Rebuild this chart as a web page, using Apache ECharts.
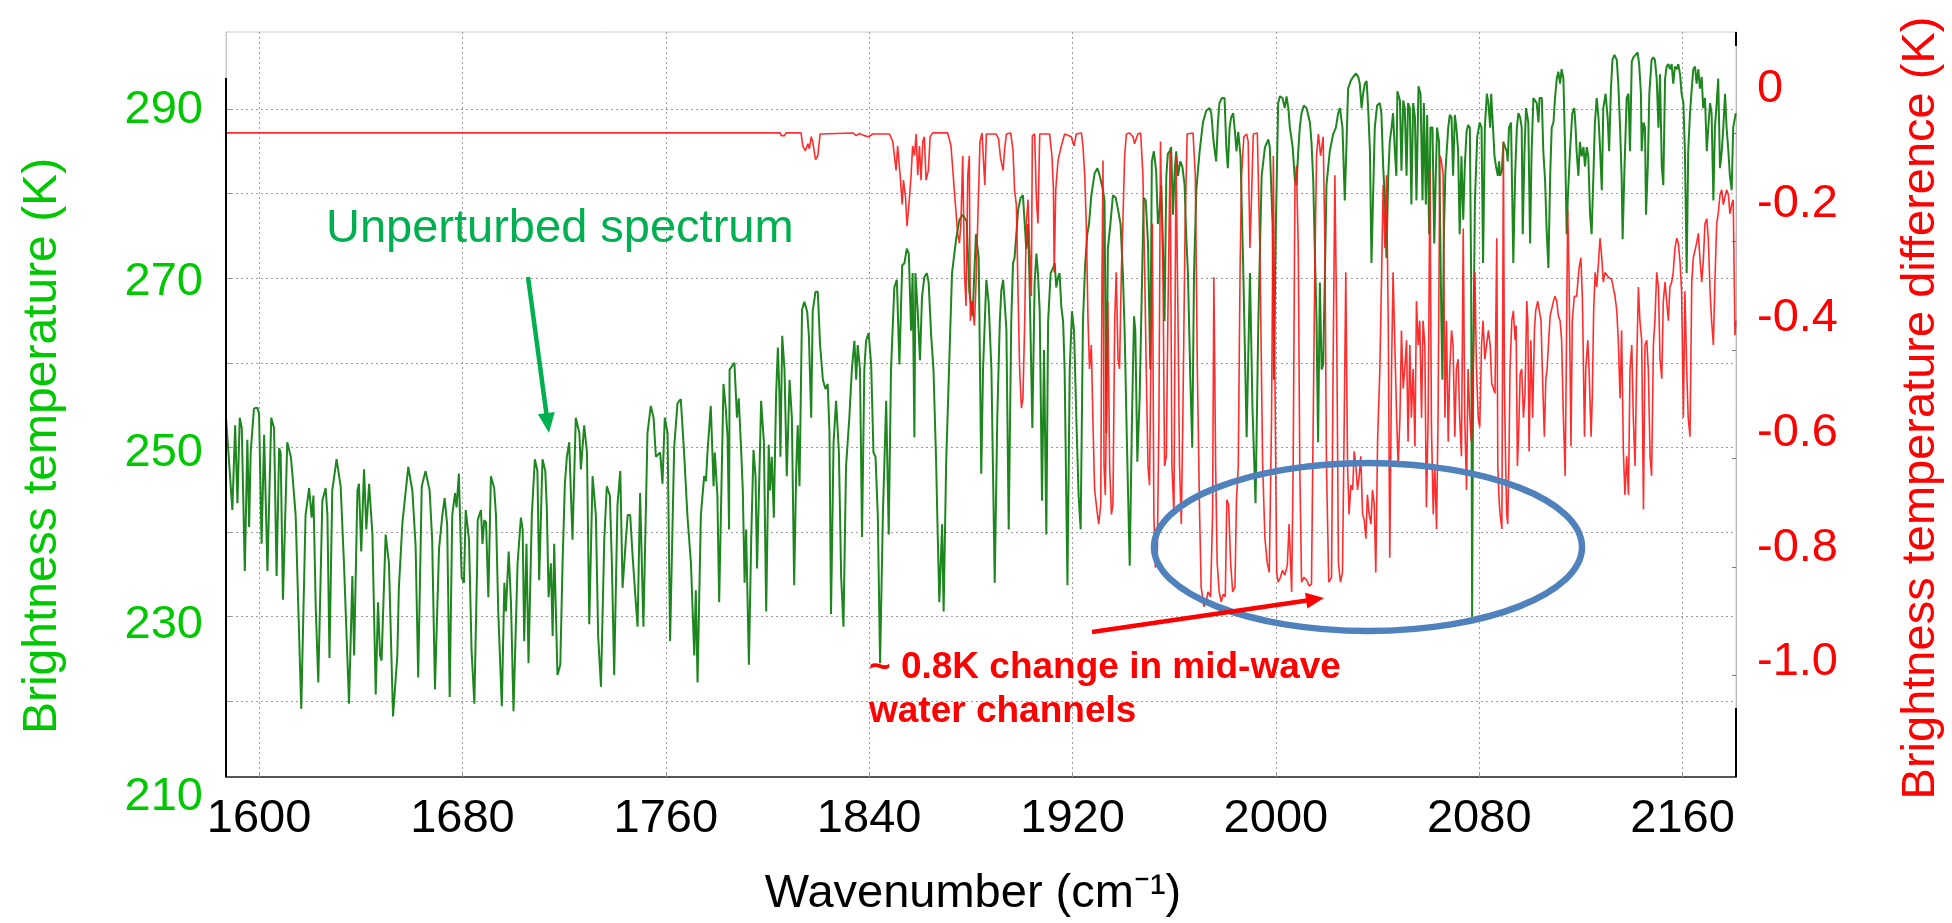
<!DOCTYPE html>
<html>
<head>
<meta charset="utf-8">
<script src="https://cdn.jsdelivr.net/npm/echarts@6.0.0/dist/echarts.min.js"></script>
<style>
html,body{margin:0;padding:0;background:#fff;}
#chart{width:1952px;height:923px;}
</style>
</head>
<body>
<div id="chart"></div>
<script>
// ---------------- data ----------------
const xTickValues = [1600, 1680, 1760, 1840, 1920, 2000, 2080, 2160];
const tempGridValues = [220, 230, 240, 250, 260, 270, 280, 290];
const tempLabelValues = [210, 230, 250, 270, 290];
const diffLabelValues = [0, -0.2, -0.4, -0.6, -0.8, -1.0];
const diffTickValues = [0, -0.2, -0.4, -0.6, -0.8, -1.0];

// Unperturbed spectrum: [wavenumber (cm-1), brightness temperature (K)]
const unperturbedSpectrum = [
[1586.9,254.0],[1589.5,242.6],[1590.6,252.6],[1591.5,243.4],[1592.4,253.5],[1593.2,252.3],[1594.4,235.4],[1595.4,250.9],[1596.1,240.6],[1596.7,249.4],[1598.0,254.6],[1599.3,254.7],[1600.0,254.0],[1601.0,238.6],[1602.0,251.5],[1603.3,235.4],[1604.8,253.5],[1605.9,252.3],[1606.9,234.8],[1607.9,249.9],[1608.5,249.4],[1609.4,232.0],[1611.1,250.6],[1612.5,248.9],[1613.1,246.9],[1614.4,242.0],[1616.6,219.1],[1618.3,242.0],[1619.7,245.2],[1620.7,241.7],[1621.4,244.3],[1622.3,231.1],[1623.3,222.2],[1624.9,243.7],[1626.2,245.2],[1626.9,242.0],[1627.7,225.1],[1628.8,244.9],[1630.5,248.6],[1632.1,245.4],[1633.4,236.3],[1635.4,219.7],[1636.7,234.8],[1637.4,225.4],[1638.7,244.9],[1639.3,245.7],[1640.2,237.7],[1641.3,247.4],[1642.2,240.3],[1643.3,245.7],[1644.6,239.7],[1645.9,220.8],[1646.8,231.7],[1647.6,225.4],[1648.2,224.8],[1649.8,239.7],[1651.1,236.3],[1652.7,218.2],[1654.4,225.4],[1655.0,233.4],[1656.4,241.1],[1658.7,247.7],[1660.3,244.9],[1661.6,238.3],[1662.6,222.8],[1664.0,245.4],[1665.5,247.2],[1667.1,244.9],[1668.1,239.1],[1669.2,221.4],[1670.8,238.0],[1672.1,242.0],[1673.0,244.0],[1674.0,240.9],[1675.0,220.5],[1676.0,242.0],[1677.1,244.6],[1677.7,242.9],[1678.6,246.9],[1679.7,234.6],[1680.6,234.0],[1681.3,242.6],[1682.6,239.1],[1683.6,226.0],[1684.7,219.7],[1685.8,236.3],
[1686.0,241.4],[1687.3,242.6],[1687.9,238.6],[1688.6,241.4],[1689.3,241.1],[1690.2,232.3],[1691.2,246.6],[1692.5,245.2],[1693.2,242.0],[1694.1,230.6],[1695.5,219.4],[1696.5,234.0],[1697.1,230.6],[1698.2,237.7],[1699.1,231.7],[1700.1,218.8],[1701.7,236.3],[1703.0,241.7],[1703.7,240.3],[1704.3,227.1],[1705.2,238.6],[1706.0,224.5],[1707.3,242.0],[1708.5,248.6],[1709.5,247.2],[1710.2,234.3],[1711.5,248.6],[1712.6,247.2],[1713.2,242.9],[1713.9,232.3],[1714.8,236.3],[1715.5,227.7],[1716.1,238.6],[1717.4,223.1],[1718.5,224.3],[1719.4,236.3],[1720.3,245.7],[1721.1,248.9],[1722.0,250.6],[1723.3,239.1],[1724.6,253.5],[1726.0,251.7],[1726.6,247.4],[1727.9,252.6],[1729.0,249.4],[1729.9,229.1],[1731.2,246.6],[1732.5,242.0],[1733.4,227.7],[1734.5,221.7],[1735.8,239.1],[1736.8,245.4],[1738.0,244.3],[1738.8,236.3],[1739.7,223.1],[1741.0,243.2],[1742.1,247.2],[1743.0,233.4],[1744.3,239.1],[1745.0,242.0],[1746.0,242.0],[1746.9,237.4],[1748.2,231.7],[1748.9,228.8],[1749.9,244.6],[1751.2,228.8],[1752.8,251.7],[1754.1,254.9],[1755.2,253.5],[1756.1,248.9],[1757.8,249.4],[1758.7,245.7],[1759.6,253.5],[1760.7,251.7],[1761.7,227.1],[1763.3,250.0],[1764.6,255.2],[1765.9,255.7],[1767.2,249.4],[1768.5,242.0],[1769.9,236.3],[1771.2,225.4],[1771.8,233.1],[1772.5,222.2],[1773.8,242.0],[1775.1,246.6],[1775.8,246.0],[1776.4,249.4],[1777.7,254.9],[1778.8,245.4],[1779.3,249.4],[1780.3,244.3],[1781.0,231.7],[1782.7,257.5],[1783.6,254.6],[1784.3,251.2],[1784.9,240.3],
[1785.1,259.2],[1787.0,260.0],[1788.0,253.5],[1788.7,255.8],[1789.6,250.0],[1790.3,244.9],[1791.0,234.0],[1791.6,240.3],[1792.7,224.3],[1793.6,239.1],[1794.5,249.7],[1795.3,246.6],[1795.9,235.7],[1796.9,247.7],[1797.5,255.5],[1798.6,250.6],[1799.5,230.6],[1800.5,250.3],[1801.0,244.9],[1801.7,248.9],[1802.5,241.7],[1803.4,256.3],[1804.1,261.8],[1804.7,256.3],[1805.1,248.9],[1805.8,263.2],[1806.7,259.2],[1807.6,246.6],[1808.7,258.0],[1809.6,253.5],[1810.5,233.7],[1811.3,247.2],[1811.9,252.6],[1812.6,245.4],[1813.6,266.3],[1814.5,267.2],[1815.6,266.1],[1816.3,263.2],[1817.2,253.5],[1817.8,266.1],[1818.9,268.4],[1819.8,268.4],[1820.7,262.1],[1821.8,258.0],[1822.8,256.9],[1823.7,257.5],[1824.4,251.7],[1825.0,230.3],[1826.0,250.6],[1827.0,255.5],[1828.1,249.4],[1829.0,234.6],[1829.9,228.8],[1830.9,247.7],[1832.2,253.5],[1833.2,259.2],[1834.2,262.6],[1834.9,258.0],[1835.5,262.1],[1836.4,259.2],[1837.2,239.4],[1838.1,259.2],[1838.8,262.6],[1839.8,263.5],[1840.8,259.8],[1841.7,249.4],[1842.5,248.9],[1843.4,242.0],[1844.3,224.5],[1845.4,242.0],[1846.7,255.5],[1847.7,239.7],[1848.6,259.2],[1849.9,268.9],[1850.9,269.8],[1851.9,259.8],[1853.0,271.5],[1853.9,271.8],[1854.8,273.5],[1855.6,272.9],[1856.5,263.8],[1857.1,270.6],[1857.8,251.2],[1858.2,270.6],[1859.1,266.1],[1860.0,260.3],[1860.8,267.8],[1861.7,270.1],[1862.7,270.6],[1863.4,269.5],[1864.4,263.2],[1865.3,259.2],[1866.3,248.9],[1867.0,239.4],[1867.6,231.7],[1868.7,240.9],[1869.3,230.6],[1870.3,248.3],[1871.3,258.0],[1872.6,270.6],[1874.2,274.6],[1875.5,276.9],[1876.8,277.5],[1878.4,276.7],[1879.4,268.4],[1880.7,265.5],[1882.0,275.2],[1883.1,272.4],
[1884.1,246.9],[1884.8,259.2],[1886.1,269.8],[1887.0,267.2],[1888.1,259.2],[1889.4,234.0],[1890.4,253.5],[1891.4,264.9],[1892.0,268.6],[1892.7,269.8],[1893.3,267.2],[1894.0,263.8],[1894.9,240.3],[1895.9,264.9],[1896.6,271.8],[1897.2,272.4],[1897.9,275.2],[1898.6,278.1],[1899.6,279.5],[1900.5,279.8],[1901.2,276.4],[1901.8,273.5],[1902.5,276.4],[1903.1,269.5],[1904.2,252.3],[1905.1,269.5],[1905.8,272.9],[1906.4,270.6],[1907.1,266.1],[1908.0,243.7],[1908.8,261.5],[1909.7,239.7],[1910.4,264.9],[1911.4,270.6],[1912.3,271.2],[1913.0,271.8],[1913.6,268.9],[1914.3,270.1],[1914.9,270.6],[1915.6,266.6],[1916.3,264.9],[1916.9,259.2],[1918.0,233.7],[1918.9,259.2],[1919.8,266.1],[1920.6,263.8],[1921.5,253.5],[1922.4,244.3],[1923.2,240.3],[1924.1,264.9],[1925.0,271.8],[1925.8,275.2],[1926.5,276.4],[1927.4,279.8],[1928.7,282.4],[1929.8,283.0],[1930.7,282.1],[1931.3,282.1],[1932.0,280.4],[1932.6,279.2],[1933.3,251.7],[1933.9,273.5],[1934.9,276.4],[1935.9,279.8],[1937.0,279.5],[1937.9,278.1],[1938.9,276.4],[1939.8,270.6],[1940.5,263.8],[1941.4,250.6],[1942.5,236.0],[1943.4,253.5],[1944.2,265.5],[1944.7,263.8],[1945.5,248.3],[1946.4,255.8],[1947.1,266.1],[1948.0,279.5],[1948.8,279.2],[1949.7,274.1],[1950.6,259.2],[1951.2,283.8],[1952.0,285.0],[1952.9,282.7],[1953.6,276.4],[1954.3,278.1],[1954.9,281.0],[1955.6,273.5],[1956.2,264.9],[1956.9,282.1],[1957.5,284.7],[1958.2,285.0],[1958.8,285.5],[1959.5,277.5],[1960.2,282.7],[1960.8,285.0],[1961.5,282.1],[1962.4,283.8],[1963.2,283.2],[1964.1,281.0],[1964.7,275.2],[1965.4,270.6],[1966.4,257.5],[1967.1,250.0],[1967.8,270.6],[1968.7,280.4],[1970.0,285.0],[1971.3,288.4],[1972.6,289.8],[1973.9,290.1],[1974.6,289.5],[1975.5,286.1],[1976.5,283.8],[1977.2,288.4],[1977.8,290.7],[1978.8,291.3],[1979.8,291.3],[1980.5,285.5],[1981.1,283.0],[1981.8,287.8],[1982.4,289.0],
[1983.2,289.5],[1983.9,287.3],[1984.5,285.0],[1985.2,287.3],[1986.1,284.4],[1987.2,270.6],[1988.5,251.2],[1989.8,270.6],[1990.8,254.6],[1992.0,243.4],[1993.1,264.9],[1994.4,282.1],[1995.7,285.5],[1997.0,286.4],[1997.6,285.5],[1998.7,276.4],[1999.2,258.0],[2000.0,276.4],[2000.9,290.7],[2001.6,291.5],[2002.6,291.3],[2003.5,290.1],[2004.2,291.5],[2004.9,290.1],[2005.5,287.8],[2006.6,285.5],[2007.5,281.5],[2008.1,281.0],[2008.8,285.0],[2009.4,287.8],[2010.1,289.5],[2011.0,290.4],[2012.1,290.1],[2012.7,289.3],[2013.4,288.4],[2014.0,286.1],[2014.7,281.5],[2015.3,273.5],[2016.0,264.9],[2016.6,250.6],[2017.3,269.5],[2018.0,259.2],[2018.6,259.8],[2019.3,270.6],[2019.9,281.0],[2021.2,285.0],[2022.5,287.0],[2023.6,287.8],[2024.5,289.5],[2025.2,290.1],[2026.2,287.8],[2027.1,279.2],[2027.8,286.1],[2028.4,292.4],[2029.4,293.3],[2030.4,293.8],[2031.5,294.2],[2032.4,293.8],[2033.0,293.0],[2033.7,290.1],[2034.3,291.8],[2035.0,293.0],[2035.7,293.3],[2036.3,290.1],[2037.0,285.0],[2037.6,271.8],[2038.3,280.4],[2038.9,287.8],[2039.8,290.4],[2040.9,290.7],[2041.5,289.5],[2042.2,283.2],[2042.9,279.2],[2043.5,272.4],[2044.2,282.1],[2044.8,286.1],[2045.5,287.8],[2046.1,289.5],[2046.8,285.0],[2047.4,282.1],[2047.8,292.1],[2048.8,291.0],[2049.4,282.7],[2050.1,291.0],[2050.7,290.1],[2051.4,282.1],[2052.0,290.7],[2052.7,290.1],[2053.3,278.7],[2054.0,290.7],[2054.7,289.0],[2055.3,279.2],[2056.1,292.7],[2056.9,291.8],[2057.7,279.2],[2058.2,290.7],[2059.0,278.7],[2059.5,289.3],[2060.3,275.2],[2060.8,287.8],[2061.6,287.8],[2062.3,274.1],[2062.9,282.1],[2063.4,287.8],[2064.2,286.1],[2065.1,264.9],[2065.5,258.0],[2066.1,275.2],[2066.7,282.7],[2067.8,287.8],[2068.4,289.3],[2069.1,289.0],[2069.7,282.1],[2070.4,289.3],[2071.0,287.8],[2071.7,285.0],[2072.3,275.2],[2073.0,284.4],[2073.7,276.9],[2074.3,283.2],[2075.0,287.3],[2075.6,288.1],[2076.3,287.8],[2076.8,270.6],[2077.2,230.0],[2077.6,259.2],[2078.3,279.2],[2079.2,286.7],[2080.2,288.4],[2080.9,287.8],[2081.5,271.8],[2082.2,287.8],
[2083.0,291.8],[2083.6,290.7],[2084.3,287.8],[2084.7,291.8],[2085.2,289.0],[2086.0,284.4],[2086.6,283.2],[2087.3,282.1],[2087.8,283.8],[2088.2,282.1],[2088.9,282.7],[2089.5,286.1],[2090.2,285.5],[2090.8,285.0],[2091.2,283.8],[2091.7,287.8],[2092.5,288.4],[2093.4,271.8],[2094.1,282.1],[2094.8,287.8],[2095.4,289.5],[2096.1,289.0],[2096.7,287.8],[2097.1,275.2],[2097.8,285.0],[2098.4,290.1],[2099.3,288.4],[2100.0,274.1],[2100.6,285.0],[2101.3,291.3],[2102.0,291.5],[2102.6,290.7],[2103.3,288.4],[2103.7,291.3],[2104.6,291.3],[2105.2,285.0],[2105.9,281.5],[2106.5,275.8],[2107.2,271.2],[2107.9,282.1],[2108.5,287.8],[2109.2,288.4],[2109.8,291.3],[2110.5,293.6],[2111.1,294.4],[2111.8,293.0],[2112.4,294.7],[2113.1,293.6],[2113.8,285.0],[2114.4,275.2],[2114.8,279.2],[2115.7,285.0],[2116.6,289.5],[2117.4,290.1],[2117.9,287.8],[2118.3,285.0],[2119.0,282.1],[2119.6,286.1],[2120.3,284.4],[2121.0,285.5],[2121.6,283.2],[2122.3,285.5],[2122.9,284.4],[2123.6,277.5],[2124.2,275.2],[2124.9,282.1],[2125.5,288.4],[2126.2,291.3],[2126.9,289.0],[2127.5,285.5],[2128.2,280.4],[2128.8,290.1],[2129.7,291.8],[2130.5,289.0],[2131.1,285.0],[2131.8,292.4],[2132.4,295.8],[2133.2,296.4],[2134.1,295.8],[2134.7,293.0],[2135.4,287.8],[2136.0,282.1],[2136.4,274.6],[2137.1,282.7],[2138.0,291.3],[2138.7,291.8],[2139.3,285.0],[2140.0,295.6],[2140.6,296.1],[2141.5,296.4],[2142.3,296.7],[2142.9,295.3],[2143.6,291.8],[2143.9,285.0],[2144.6,288.4],[2145.2,287.8],[2145.6,277.5],[2146.3,283.2],[2146.9,291.8],[2147.8,295.8],[2148.5,296.1],[2149.1,295.8],[2149.8,293.6],[2150.5,287.8],[2151.1,294.1],[2151.8,283.2],[2152.4,281.0],[2153.1,293.6],[2153.7,295.0],[2154.4,295.3],[2155.0,294.7],[2155.7,295.3],[2156.3,293.0],[2157.0,295.0],[2157.7,294.7],[2158.3,295.3],[2159.0,294.1],[2159.6,291.8],[2160.3,290.7],[2160.9,285.0],[2161.6,270.6],[2162.2,285.0],[2162.9,289.5],[2163.6,292.4],[2164.2,294.7],[2164.9,295.0],[2165.5,293.0],[2166.2,294.7],[2166.8,292.4],[2167.5,293.8],[2168.1,290.1],[2168.8,291.3],[2169.5,285.0],[2170.1,287.8],[2170.8,290.7],[2171.4,289.5],[2172.1,279.2],[2172.7,287.8],[2173.4,290.7],[2174.0,293.6],[2174.7,283.0],[2175.4,285.0],[2176.0,287.8],[2176.7,291.8],[2177.3,287.8],[2178.0,285.0],[2178.6,282.1],[2179.3,280.4],[2179.9,287.8],[2180.9,289.5]
];

// Brightness temperature difference: [wavenumber (cm-1), difference (K)]
const temperatureDifference = [
[1587.0,0],[1805.0,0],[1805.4,-0.005],[1806.7,-0.005],[1807.3,0],[1813.2,0],[1813.9,-0.024],[1814.9,-0.033],[1815.9,-0.020],[1816.5,-0.029],[1817.2,-0.007],[1817.8,-0.016],[1818.9,-0.049],[1819.8,-0.042],[1820.7,-0.002],[1833.6,0],[1834.9,-0.005],[1836.2,-0.001],[1838.1,-0.005],[1839.8,-0.007],[1841.4,-0.002],[1848.0,-0.002],[1849.3,-0.016],[1850.6,-0.069],[1851.2,-0.024],[1852.2,-0.078],[1853.0,-0.132],[1853.5,-0.087],[1854.3,-0.118],[1854.9,-0.172],[1855.8,-0.123],[1856.5,-0.078],[1857.1,-0.024],[1857.8,-0.042],[1858.5,-0.002],[1859.1,-0.078],[1859.8,-0.024],[1860.4,-0.087],[1861.1,-0.016],[1861.7,-0.007],[1862.4,-0.087],[1863.3,-0.069],[1864.0,-0.007],[1865.0,0],[1870.9,0],[1872.2,-0.024],[1873.5,-0.105],[1874.8,-0.185],[1875.5,-0.203],[1876.1,-0.167],[1876.8,-0.042],[1877.5,-0.257],[1878.1,-0.319],[1878.8,-0.078],[1879.4,-0.042],[1879.8,-0.346],[1880.5,-0.310],[1881.4,-0.355],[1882.0,-0.283],[1882.7,-0.167],[1883.6,-0.016],[1884.4,0],
[1884.8,-0.002],[1885.5,-0.096],[1886.1,-0.002],[1890.0,-0.002],[1890.9,-0.011],[1891.7,-0.047],[1892.7,-0.069],[1893.3,-0.029],[1894.0,-0.002],[1895.7,0],[1896.6,-0.033],[1897.2,-0.105],[1897.9,-0.132],[1898.6,-0.301],[1899.2,-0.435],[1899.9,-0.507],[1900.5,-0.489],[1901.2,-0.346],[1901.8,-0.167],[1902.5,-0.123],[1903.1,-0.212],[1903.8,-0.301],[1904.2,-0.005],[1905.1,-0.002],[1905.8,-0.123],[1906.4,-0.167],[1907.1,-0.002],[1911.0,-0.002],[1911.9,-0.042],[1912.5,-0.105],[1912.8,-0.257],[1913.4,-0.105],[1914.3,-0.051],[1915.6,-0.024],[1916.9,-0.002],[1919.5,-0.007],[1920.6,-0.024],[1921.5,-0.002],[1923.5,0],[1924.1,-0.024],[1924.8,-0.078],[1925.4,-0.167],[1926.1,-0.346],[1926.7,-0.435],[1927.4,-0.391],[1928.0,-0.525],[1928.7,-0.658],[1929.8,-0.703],[1930.3,-0.721],[1931.1,-0.685],[1931.6,-0.257],[1932.0,-0.051],[1932.4,-0.614],[1932.9,-0.667],[1933.3,-0.525],[1933.9,-0.310],[1934.6,-0.614],[1935.3,-0.703],[1935.9,-0.685],[1936.6,-0.346],[1937.2,-0.257],[1937.9,-0.417],[1938.5,-0.435],[1939.2,-0.257],[1939.8,-0.167],[1940.5,-0.042],[1941.2,-0.002],[1942.5,0],[1943.8,-0.007],[1944.4,-0.020],[1945.7,-0.002],[1946.8,0],[1947.7,-0.078],[1948.4,-0.257],[1949.0,-0.435],[1949.7,-0.614],[1950.3,-0.649],[1951.0,-0.346],[1951.4,-0.167],[1952.0,-0.703],[1952.6,-0.801],[1953.3,-0.792],[1954.0,-0.525],[1954.6,-0.016],[1955.6,-0.257],[1956.2,-0.614],[1956.9,-0.596],[1957.5,-0.346],[1958.4,-0.033],[1959.1,-0.614],[1959.9,-0.703],[1960.7,-0.042],[1961.5,-0.346],[1962.1,-0.614],[1962.8,-0.721],[1963.4,-0.525],[1964.3,-0.167],[1965.1,-0.002],[1967.4,0],[1968.3,-0.078],[1969.1,-0.435],[1970.0,-0.703],[1970.6,-0.837],[1971.7,-0.873],[1972.6,-0.864],[1973.3,-0.846],[1974.3,-0.855],[1975.1,-0.703],[1975.6,-0.266],[1976.3,-0.614],[1976.9,-0.792],[1977.7,-0.846],[1978.5,-0.864],[1979.3,-0.850],[1980.1,-0.855],[1980.7,-0.676],[1981.4,-0.685],[1982.2,-0.792],[1983.0,-0.846],
[1983.9,-0.837],[1984.5,-0.676],[1985.2,-0.614],[1985.9,-0.257],[1986.5,-0.078],[1987.4,-0.007],[1988.5,-0.002],[1989.1,-0.016],[1989.8,-0.212],[1990.4,-0.123],[1991.1,-0.002],[1992.7,0],[1993.7,-0.212],[1994.8,-0.614],[1995.7,-0.748],[1996.6,-0.792],[1997.4,-0.810],[1998.3,-0.525],[1999.0,-0.042],[1999.6,-0.435],[2000.3,-0.810],[2000.9,-0.828],[2001.8,-0.819],[2002.6,-0.806],[2003.5,-0.815],[2004.5,-0.797],[2005.2,-0.721],[2006.2,-0.846],[2006.8,-0.614],[2007.5,-0.096],[2008.1,-0.060],[2008.8,-0.212],[2009.4,-0.614],[2010.1,-0.828],[2011.0,-0.819],[2012.1,-0.824],[2013.1,-0.835],[2014.0,-0.832],[2014.7,-0.525],[2015.3,-0.257],[2016.0,-0.042],[2016.7,-0.002],[2017.6,-0.042],[2018.6,-0.007],[2019.3,-0.212],[2019.9,-0.614],[2020.8,-0.828],[2021.9,-0.819],[2022.5,-0.435],[2023.2,-0.078],[2023.9,-0.346],[2024.6,-0.792],[2025.4,-0.828],[2026.2,-0.810],[2026.9,-0.525],[2027.5,-0.257],[2028.2,-0.614],[2028.8,-0.703],[2029.5,-0.649],[2030.2,-0.658],[2030.8,-0.587],[2031.5,-0.614],[2032.1,-0.658],[2032.8,-0.632],[2033.4,-0.596],[2034.1,-0.703],[2034.7,-0.712],[2035.4,-0.748],[2036.0,-0.667],[2036.7,-0.703],[2037.4,-0.721],[2038.0,-0.658],[2038.7,-0.685],[2039.3,-0.810],[2040.0,-0.569],[2040.9,-0.435],[2041.6,-0.257],[2042.2,-0.096],[2042.9,-0.212],[2043.5,-0.078],[2044.2,-0.346],[2044.8,-0.783],[2045.5,-0.435],[2046.1,-0.257],[2046.8,-0.391],[2047.5,-0.525],[2048.1,-0.614],[2048.8,-0.525],[2049.4,-0.364],[2050.1,-0.471],[2050.7,-0.435],[2051.4,-0.382],[2052.0,-0.569],[2052.7,-0.391],[2053.3,-0.525],[2054.0,-0.435],[2054.7,-0.578],[2055.3,-0.310],[2056.0,-0.391],[2056.6,-0.346],[2057.3,-0.525],[2057.9,-0.346],[2058.6,-0.391],[2059.2,-0.690],[2059.9,-0.525],[2060.6,-0.069],[2061.2,-0.542],[2061.9,-0.703],[2062.5,-0.614],[2063.2,-0.730],[2063.8,-0.525],[2064.5,-0.042],[2065.1,-0.051],[2065.8,-0.078],[2066.5,-0.525],[2067.1,-0.346],[2067.8,-0.569],[2068.4,-0.435],[2069.1,-0.364],[2069.7,-0.391],[2070.4,-0.560],[2071.0,-0.435],[2071.7,-0.417],[2072.3,-0.525],[2073.0,-0.596],[2073.7,-0.176],[2074.3,-0.525],[2075.0,-0.658],[2075.6,-0.435],[2076.3,-0.525],[2076.9,-0.569],[2077.6,-0.435],[2078.3,-0.257],[2078.9,-0.435],[2079.6,-0.525],[2080.2,-0.542],[2080.9,-0.391],[2081.5,-0.346],[2082.2,-0.417],
[2083.6,-0.364],[2084.3,-0.391],[2084.9,-0.462],[2085.6,-0.471],[2086.2,-0.480],[2086.9,-0.194],[2087.3,-0.614],[2087.8,-0.676],[2088.2,-0.703],[2088.9,-0.730],[2089.5,-0.016],[2089.9,-0.462],[2090.4,-0.614],[2090.8,-0.703],[2091.2,-0.721],[2091.7,-0.596],[2092.1,-0.435],[2092.8,-0.346],[2093.4,-0.328],[2094.1,-0.382],[2094.5,-0.355],[2095.0,-0.614],[2095.4,-0.569],[2096.1,-0.444],[2096.7,-0.435],[2097.4,-0.525],[2098.0,-0.480],[2098.7,-0.310],[2099.1,-0.346],[2099.6,-0.587],[2100.3,-0.382],[2101.0,-0.525],[2101.7,-0.364],[2102.2,-0.328],[2103.0,-0.310],[2103.7,-0.310],[2104.3,-0.346],[2104.8,-0.435],[2105.6,-0.560],[2106.2,-0.453],[2106.7,-0.435],[2107.2,-0.391],[2107.9,-0.337],[2108.5,-0.337],[2109.2,-0.310],[2109.8,-0.301],[2110.5,-0.310],[2111.1,-0.337],[2111.8,-0.346],[2112.4,-0.382],[2113.1,-0.525],[2113.8,-0.632],[2114.4,-0.346],[2114.8,-0.141],[2115.3,-0.257],[2116.1,-0.578],[2116.6,-0.346],[2117.4,-0.301],[2118.3,-0.301],[2119.3,-0.248],[2120.0,-0.230],[2120.6,-0.310],[2121.4,-0.560],[2121.9,-0.435],[2122.7,-0.382],[2123.2,-0.435],[2124.0,-0.560],[2124.5,-0.480],[2125.0,-0.328],[2125.6,-0.257],[2126.2,-0.284],[2126.9,-0.239],[2127.5,-0.194],[2128.2,-0.230],[2128.8,-0.275],[2129.5,-0.257],[2130.8,-0.266],[2132.1,-0.270],[2133.4,-0.301],[2134.1,-0.328],[2134.7,-0.382],[2135.4,-0.489],[2136.0,-0.364],[2136.7,-0.587],[2137.3,-0.667],[2138.0,-0.596],[2138.7,-0.667],[2139.3,-0.435],[2140.0,-0.391],[2140.6,-0.525],[2141.3,-0.614],[2141.9,-0.435],[2142.6,-0.284],[2143.2,-0.346],[2143.9,-0.382],[2144.6,-0.694],[2145.2,-0.391],[2145.9,-0.382],[2146.5,-0.435],[2147.2,-0.596],[2147.8,-0.632],[2148.5,-0.391],[2149.1,-0.346],[2149.8,-0.257],[2150.5,-0.284],[2151.1,-0.417],[2151.8,-0.453],[2152.4,-0.310],[2153.1,-0.275],[2153.7,-0.310],[2154.4,-0.346],[2155.0,-0.284],[2155.7,-0.275],[2156.3,-0.257],[2157.0,-0.212],[2157.7,-0.194],[2158.3,-0.203],[2159.0,-0.239],[2159.6,-0.292],[2160.3,-0.525],[2160.9,-0.292],[2161.6,-0.435],[2162.2,-0.525],[2162.9,-0.560],[2163.6,-0.275],[2164.2,-0.230],[2164.9,-0.230],[2165.5,-0.203],[2166.2,-0.185],[2166.8,-0.230],[2167.5,-0.275],[2168.1,-0.239],[2168.8,-0.167],[2169.5,-0.158],[2170.1,-0.194],[2170.8,-0.292],[2171.4,-0.346],[2172.1,-0.391],[2172.7,-0.275],[2173.4,-0.167],[2174.0,-0.149],[2174.7,-0.114],[2175.4,-0.105],[2176.0,-0.132],[2176.7,-0.132],[2177.3,-0.105],[2178.0,-0.114],[2178.6,-0.149],[2179.3,-0.132],[2179.9,-0.123],[2180.6,-0.373],[2180.9,-0.346]
];

// ---------------- layout ----------------
const FONT = '"Liberation Sans", Arial, Helvetica, sans-serif';
const GREEN_TXT = '#00C800';
const RED_TXT = '#FF0000';
const GRID_LINE = { color: '#9c9c9c', width: 1, type: [2, 3] };
const PLOT = { left: 226, right: 1736, top: 32, bottom: 777 };

function arrow(x1, y1, x2, y2, color, width, headLen, headW) {
  const dx = x2 - x1, dy = y2 - y1, L = Math.hypot(dx, dy);
  const ux = dx / L, uy = dy / L, px = -uy, py = ux;
  const bx = x2 - ux * headLen, by = y2 - uy * headLen;
  return [
    { type: 'line', z: 100, shape: { x1: x1, y1: y1, x2: bx + ux, y2: by + uy },
      style: { stroke: color, lineWidth: width } },
    { type: 'polygon', z: 100, shape: { points: [[x2, y2], [bx + px * headW / 2, by + py * headW / 2], [bx - px * headW / 2, by - py * headW / 2]] },
      style: { fill: color } }
  ];
}
function frameSegment(x1, y1, x2, y2, color, width) {
  return { type: 'line', z: 50, shape: { x1: x1, y1: y1, x2: x2, y2: y2 }, style: { stroke: color, lineWidth: width } };
}

const chart = echarts.init(document.getElementById('chart'), null, { renderer: 'canvas' });

const option = {
  animation: false,
  backgroundColor: '#ffffff',
  grid: [
    { left: PLOT.left, right: 1952 - PLOT.right, top: PLOT.top, bottom: 923 - PLOT.bottom, show: true, borderColor: '#c8c8c8', borderWidth: 1 },
    { left: PLOT.left, right: 1952 - PLOT.right, top: 24, height: 773, show: false }
  ],
  xAxis: [
    { type: 'value', gridIndex: 0, position: 'bottom', min: 1587, max: 2181,
      axisLine: { show: true, onZero: false, lineStyle: { color: '#555', width: 2 } },
      axisTick: { show: true, inside: true, length: 5, customValues: xTickValues, lineStyle: { color: '#999' } },
      axisLabel: { customValues: xTickValues, formatter: v => String(v), fontSize: 47, fontFamily: FONT, color: '#000', margin: 19 },
      splitLine: { show: true, lineStyle: GRID_LINE } },
    { type: 'value', gridIndex: 1, min: 0, max: 1, show: false }
  ],
  yAxis: [
    { type: 'value', gridIndex: 0, position: 'left', min: 211.04, max: 299.1,
      axisLine: { show: true, onZero: false, lineStyle: { color: '#c8c8c8', width: 1 } },
      axisTick: { show: true, inside: true, length: 5, customValues: tempGridValues, lineStyle: { color: '#999' } },
      axisLabel: { show: false },
      splitLine: { show: true, lineStyle: GRID_LINE } },
    { type: 'value', gridIndex: 1, position: 'left', min: 210, max: 300,
      axisLine: { show: false }, axisTick: { show: false }, splitLine: { show: false },
      axisLabel: { customValues: tempLabelValues, formatter: v => String(v), fontSize: 47, fontFamily: FONT, color: GREEN_TXT, margin: 23 } },
    { type: 'value', gridIndex: 0, position: 'right', min: -1.2, max: 0.1,
      axisLine: { show: false }, axisTick: { show: false }, splitLine: { show: false },
      axisLabel: { customValues: diffLabelValues, formatter: v => (Math.abs(v) < 1e-9 ? '0' : v.toFixed(1)), fontSize: 47, fontFamily: FONT, color: RED_TXT, margin: 21 } },
    { type: 'value', gridIndex: 0, position: 'right', min: -1.187, max: 0.186,
      axisLine: { show: true, onZero: false, lineStyle: { color: '#b5b5b5', width: 1 } },
      axisTick: { show: true, inside: true, length: 4, customValues: diffTickValues, lineStyle: { color: '#777' } },
      axisLabel: { show: false }, splitLine: { show: false } }
  ],
  series: [
    { name: 'Unperturbed spectrum', type: 'line', xAxisIndex: 0, yAxisIndex: 0,
      data: unperturbedSpectrum, symbol: 'none', z: 2,
      lineStyle: { color: '#1e861e', width: 2 } },
    { name: 'Brightness temperature difference', type: 'line', xAxisIndex: 0, yAxisIndex: 3,
      data: temperatureDifference, symbol: 'none', z: 3,
      lineStyle: { color: '#ff1616', width: 1.6, opacity: 0.9 } }
  ],
  graphic: [
    frameSegment(PLOT.left, 78, PLOT.left, PLOT.bottom, '#000', 2),
    frameSegment(PLOT.right, PLOT.top, PLOT.right, 46, '#000', 2),
    frameSegment(PLOT.right, 708, PLOT.right, PLOT.bottom, '#000', 2),
    { type: 'text', z: 100, x: 43, y: 446, rotation: Math.PI / 2,
      style: { text: 'Brightness temperature (K)', font: '48px ' + FONT, fill: GREEN_TXT, align: 'center', verticalAlign: 'middle' } },
    { type: 'text', z: 100, x: 1921, y: 408, rotation: Math.PI / 2,
      style: { text: 'Brightness temperature difference (K)', font: '47px ' + FONT, fill: RED_TXT, align: 'center', verticalAlign: 'middle' } },
    { type: 'text', z: 100, x: 973, y: 894,
      style: { text: 'Wavenumber (cm\u207B\u00B9)', font: '47px ' + FONT, fill: '#000', align: 'center', verticalAlign: 'middle' } },
    { type: 'text', z: 100, x: 326, y: 229,
      style: { text: 'Unperturbed spectrum', font: '47px ' + FONT, fill: '#00B050', align: 'left', verticalAlign: 'middle' } },
    { type: 'text', z: 100, x: 869, y: 668,
      style: { text: '~ 0.8K change in mid-wave', font: 'bold 37px ' + FONT, fill: '#FF0000', align: 'left', verticalAlign: 'middle' } },
    { type: 'text', z: 100, x: 869, y: 712,
      style: { text: 'water channels', font: 'bold 37px ' + FONT, fill: '#FF0000', align: 'left', verticalAlign: 'middle' } },
    { type: 'ellipse', z: 100, shape: { cx: 1368, cy: 547, rx: 214, ry: 84 },
      style: { fill: 'none', stroke: '#4F81BD', lineWidth: 6.5 } }
  ].concat(arrow(528, 277, 549, 433, '#00B050', 4.5, 20, 17))
   .concat(arrow(1092, 632, 1324, 598, '#FF0000', 4.5, 18, 16))
};

chart.setOption(option);
</script>
</body>
</html>
